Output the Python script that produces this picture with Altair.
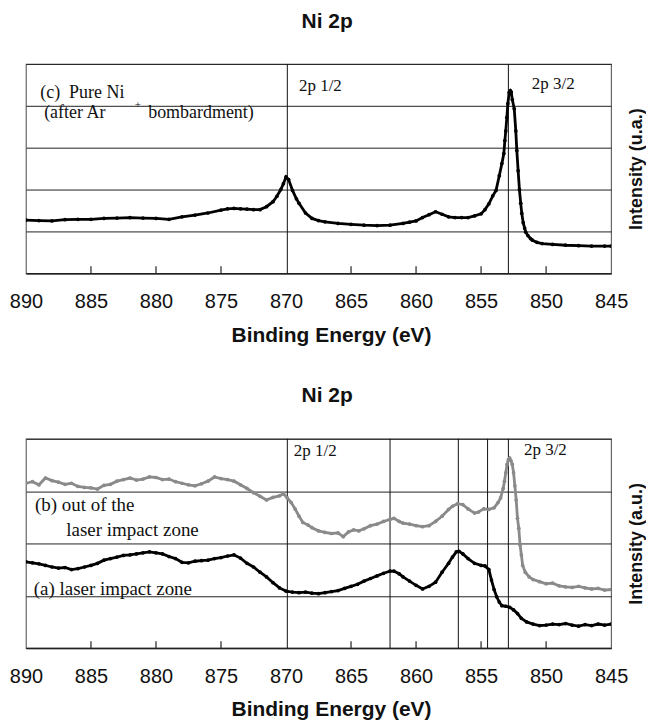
import altair as alt
import pandas as pd

# ---------------- data ----------------
x_ticks = [890, 885, 880, 875, 870, 865, 860, 855, 850, 845]
inner_ticks = [885, 880, 875, 865, 860, 855, 850]

# (c) Pure Ni
c_energy = [890, 889, 888, 887, 886, 885, 884, 883, 882, 881, 880, 879, 878, 877, 876, 875,
            874.5, 874, 873.5, 873, 872.5, 872, 871.5, 871, 870.7, 870.4, 870.2, 870, 869.8,
            869.5, 869.2, 869, 868.5, 868, 867.5, 867, 866, 865, 864, 863, 862, 861, 860.5,
            860, 859.5, 859, 858.5, 858, 857.5, 857, 856.5, 856, 855.5, 855, 854.7, 854.4,
            854.1, 853.85, 853.6, 853.4, 853.25, 853.17, 853.1, 853.02, 852.94, 852.84, 852.75,
            852.68, 852.6, 852.45, 852.33, 852.25, 852.15, 852.05, 851.95, 851.87, 851.76,
            851.65, 851.56, 851.4, 851.2, 851.05, 850.7, 850.3, 849.5, 848.5, 847.5, 846.5,
            845.5, 845]
c_intensity = [1.27, 1.26, 1.25, 1.28, 1.29, 1.29, 1.31, 1.32, 1.33, 1.32, 1.31, 1.29, 1.35,
               1.39, 1.44, 1.51, 1.54, 1.55, 1.54, 1.53, 1.52, 1.52, 1.59, 1.71, 1.84, 2.00,
               2.14, 2.30, 2.24, 1.98, 1.78, 1.67, 1.44, 1.31, 1.26, 1.23, 1.19, 1.17, 1.15,
               1.14, 1.15, 1.19, 1.22, 1.25, 1.33, 1.40, 1.47, 1.41, 1.35, 1.33, 1.33, 1.33,
               1.37, 1.42, 1.52, 1.66, 1.85, 1.98, 2.33, 2.62, 2.86, 3.17, 3.40, 3.72, 4.05,
               4.32, 4.36, 4.33, 4.15, 3.93, 3.40, 2.93, 2.45, 2.00, 1.67, 1.43, 1.21, 1.08,
               0.98, 0.90, 0.83, 0.79, 0.74, 0.71, 0.69, 0.67, 0.66, 0.65, 0.65, 0.65]

# (b) out of the laser impact zone
b_energy = [890, 889.5, 889, 888.5, 888, 887.5, 887, 886.5, 886, 885.5, 885, 884.5, 884, 883.5,
            883, 882.5, 882, 881.5, 881, 880.5, 880, 879.5, 879, 878.5, 878, 877.5, 877, 876.5,
            876, 875.5, 875, 874.5, 874, 873.5, 873, 872.5, 872, 871.5, 871, 870.5, 870.2,
            869.9, 869.6, 869.3, 869, 868.7, 868.3, 868, 867.5, 867, 866.5, 866, 865.6, 865.2,
            864.8, 864.4, 864, 863.5, 863, 862.5, 862, 861.7, 861.3, 861, 860.5, 860, 859.5,
            859, 858.5, 858, 857.5, 857.2, 856.8, 856.4, 856, 855.5, 855.2, 854.8, 854.4, 854,
            853.7, 853.5, 853.3, 853.2, 853.1, 853.0, 852.9, 852.8, 852.7, 852.6, 852.5, 852.4,
            852.3, 852.2, 852.1, 852.0, 851.9, 851.8, 851.6, 851.3, 851, 850.5, 850, 849.5, 849,
            848.5, 848, 847.5, 847, 846.5, 846, 845.5, 845]
b_intensity = [3.15, 3.18, 3.12, 3.25, 3.20, 3.17, 3.13, 3.15, 3.09, 3.07, 3.06, 3.04, 3.11,
               3.13, 3.19, 3.22, 3.25, 3.21, 3.23, 3.27, 3.26, 3.22, 3.23, 3.18, 3.15, 3.12,
               3.10, 3.14, 3.19, 3.27, 3.24, 3.22, 3.19, 3.12, 3.05, 2.97, 2.90, 2.83, 2.88,
               2.91, 2.95, 2.87, 2.78, 2.66, 2.52, 2.40, 2.35, 2.30, 2.24, 2.21, 2.19, 2.20,
               2.13, 2.22, 2.26, 2.24, 2.28, 2.34, 2.37, 2.42, 2.46, 2.48, 2.42, 2.39, 2.37,
               2.34, 2.32, 2.34, 2.42, 2.52, 2.65, 2.71, 2.76, 2.74, 2.66, 2.58, 2.60, 2.66,
               2.65, 2.68, 2.78, 2.87, 3.05, 3.19, 3.35, 3.51, 3.60, 3.63, 3.58, 3.51, 3.35,
               3.10, 2.83, 2.48, 2.29, 1.97, 1.78, 1.58, 1.45, 1.36, 1.31, 1.27, 1.23, 1.24,
               1.19, 1.17, 1.16, 1.18, 1.15, 1.13, 1.14, 1.11, 1.12]

# (a) laser impact zone
a_energy = [890, 889.5, 889, 888.5, 888, 887.5, 887, 886.5, 886, 885.5, 885, 884.5, 884, 883.5,
            883, 882.5, 882, 881.5, 881, 880.5, 880, 879.5, 879, 878.5, 878, 877.5, 877, 876.5,
            876, 875.5, 875, 874.5, 874, 873.5, 873, 872.5, 872, 871.5, 871, 870.5, 870,
            869.5, 869, 868.5, 868, 867.5, 867, 866.5, 866, 865.5, 865, 864.5, 864, 863.5,
            863, 862.5, 862, 861.7, 861.3, 861, 860.5, 860, 859.5, 859, 858.5, 858, 857.5,
            857.2, 856.9, 856.7, 856.4, 856, 855.5, 855, 854.7, 854.4, 854.2, 854.0, 853.8,
            853.6, 853.4, 853.1, 852.8, 852.5, 852.2, 851.9, 851.5, 851, 850.5, 850, 849.5,
            849, 848.5, 848, 847.5, 847, 846.5, 846, 845.5, 845]
a_intensity = [1.65, 1.63, 1.61, 1.58, 1.55, 1.53, 1.54, 1.50, 1.52, 1.55, 1.58, 1.62, 1.68,
               1.71, 1.74, 1.77, 1.78, 1.80, 1.82, 1.84, 1.82, 1.80, 1.75, 1.71, 1.64, 1.63,
               1.66, 1.67, 1.68, 1.71, 1.73, 1.76, 1.78, 1.72, 1.62, 1.55, 1.45, 1.36, 1.25,
               1.15, 1.09, 1.07, 1.06, 1.07, 1.05, 1.04, 1.06, 1.08, 1.10, 1.14, 1.18, 1.22,
               1.28, 1.33, 1.38, 1.43, 1.47, 1.47, 1.42, 1.36, 1.28, 1.20, 1.13, 1.18, 1.26,
               1.45, 1.62, 1.74, 1.84, 1.85, 1.80, 1.71, 1.62, 1.58, 1.57, 1.50, 1.30, 1.12,
               0.98, 0.88, 0.81, 0.80, 0.78, 0.73, 0.66, 0.57, 0.50, 0.46, 0.43, 0.44, 0.46,
               0.45, 0.47, 0.44, 0.42, 0.45, 0.43, 0.46, 0.44, 0.46]

top_lines = [869.9, 852.9]
bottom_lines = [869.9, 862.0, 856.75, 854.5, 852.9]

# ---------------- styling ----------------
W, H = 587, 210
SANS = "Liberation Sans"
SERIF = "Liberation Serif"


def x_enc():
    return alt.X(
        "E:Q",
        scale=alt.Scale(domain=[845, 890], reverse=True, nice=False, zero=False),
        axis=alt.Axis(
            values=x_ticks, format="d", title="Binding Energy (eV)",
            labelFont=SANS, labelFontSize=20, labelColor="#111", labelPadding=18,
            labelFlush=False, ticks=False, tickSize=0, grid=False,
            domain=True, domainColor="#222", domainWidth=1.5,
            titleFont=SANS, titleFontSize=21, titleFontWeight="bold", titleColor="#111",
            titlePadding=13, titleX=306,
        ),
    )


def y_enc(top, title):
    return alt.Y(
        "I:Q",
        scale=alt.Scale(domain=[0, top], nice=False, zero=False),
        axis=alt.Axis(
            orient="right", values=list(range(top + 1)), labels=False, ticks=False,
            domain=False, grid=True, gridColor="#222", gridWidth=1, title=title,
            titleAngle=270, titleFont=SANS, titleFontSize=18, titleFontWeight="bold",
            titleColor="#111", titlePadding=34,
        ),
    )


def series_layers(energy, inten, color, top, title):
    df = pd.DataFrame({"E": energy, "I": inten})
    base = alt.Chart(df).encode(x=x_enc(), y=y_enc(top, title))
    return [
        base.mark_line(color=color, strokeWidth=2.8, clip=True),
        base.mark_circle(color=color, size=14, opacity=1, clip=True),
    ]


def rules_layer(lines, top, title):
    df = pd.DataFrame({"E": lines})
    return alt.Chart(df).mark_rule(color="#111", strokeWidth=1).encode(x=x_enc())


def ticks_layer():
    df = pd.DataFrame({"E": inner_ticks})
    return alt.Chart(df).mark_rule(color="#222", strokeWidth=1.2).encode(
        x=x_enc(), y=alt.value(H), y2=alt.value(H - 7))


def text_layer(labels, energies, ints, top, title, size, align="left"):
    df = pd.DataFrame({"E": energies, "I": ints, "t": labels})
    return alt.Chart(df).mark_text(
        align=align, baseline="middle", font=SERIF, fontSize=size, color="#111"
    ).encode(x=x_enc(), y=y_enc(top, title), text="t:N")


def title(txt):
    return alt.TitleParams(txt, font=SANS, fontSize=21, fontWeight="bold", color="#111",
                           anchor="middle", frame="bounds", offset=32)


# ---------------- top panel ----------------
T1 = "Intensity (u.a.)"
top_chart = alt.layer(
    rules_layer(top_lines, 5, T1),
    ticks_layer(),
    *series_layers(c_energy, c_intensity, "#000000", 5, T1),
    text_layer(["(c)\u00a0\u00a0Pure Ni", "(after Ar", "bombardment)"],
               [888.9, 888.6, 880.6], [4.31, 3.83, 3.83], 5, T1, 18),
    text_layer(["+"], [881.4], [4.03], 5, T1, 11, align="center"),
    text_layer(["2p 1/2", "2p 3/2"], [869.0, 851.1], [4.48, 4.52], 5, T1, 17),
).properties(width=W, height=H, title=title("Ni 2p"))

# ---------------- bottom panel ----------------
T2 = "Intensity (a.u.)"
bottom_chart = alt.layer(
    rules_layer(bottom_lines, 4, T2),
    ticks_layer(),
    *series_layers(b_energy, b_intensity, "#8a8a8a", 4, T2),
    *series_layers(a_energy, a_intensity, "#000000", 4, T2),
    text_layer(["(b) out of the", "laser impact zone", "(a) laser impact zone"],
               [889.3, 886.9, 889.4], [2.73, 2.25, 1.12], 4, T2, 19),
    text_layer(["2p 1/2", "2p 3/2"], [869.4, 851.7], [3.77, 3.79], 4, T2, 17),
).properties(width=W, height=H, title=title("Ni 2p"))

chart = alt.vconcat(top_chart, bottom_chart, spacing=38).configure(
    padding=0, background="white"
).configure_view(stroke="#666", strokeWidth=1.2)

chart.save("out.html", embed_options={"renderer": "svg", "actions": False})
